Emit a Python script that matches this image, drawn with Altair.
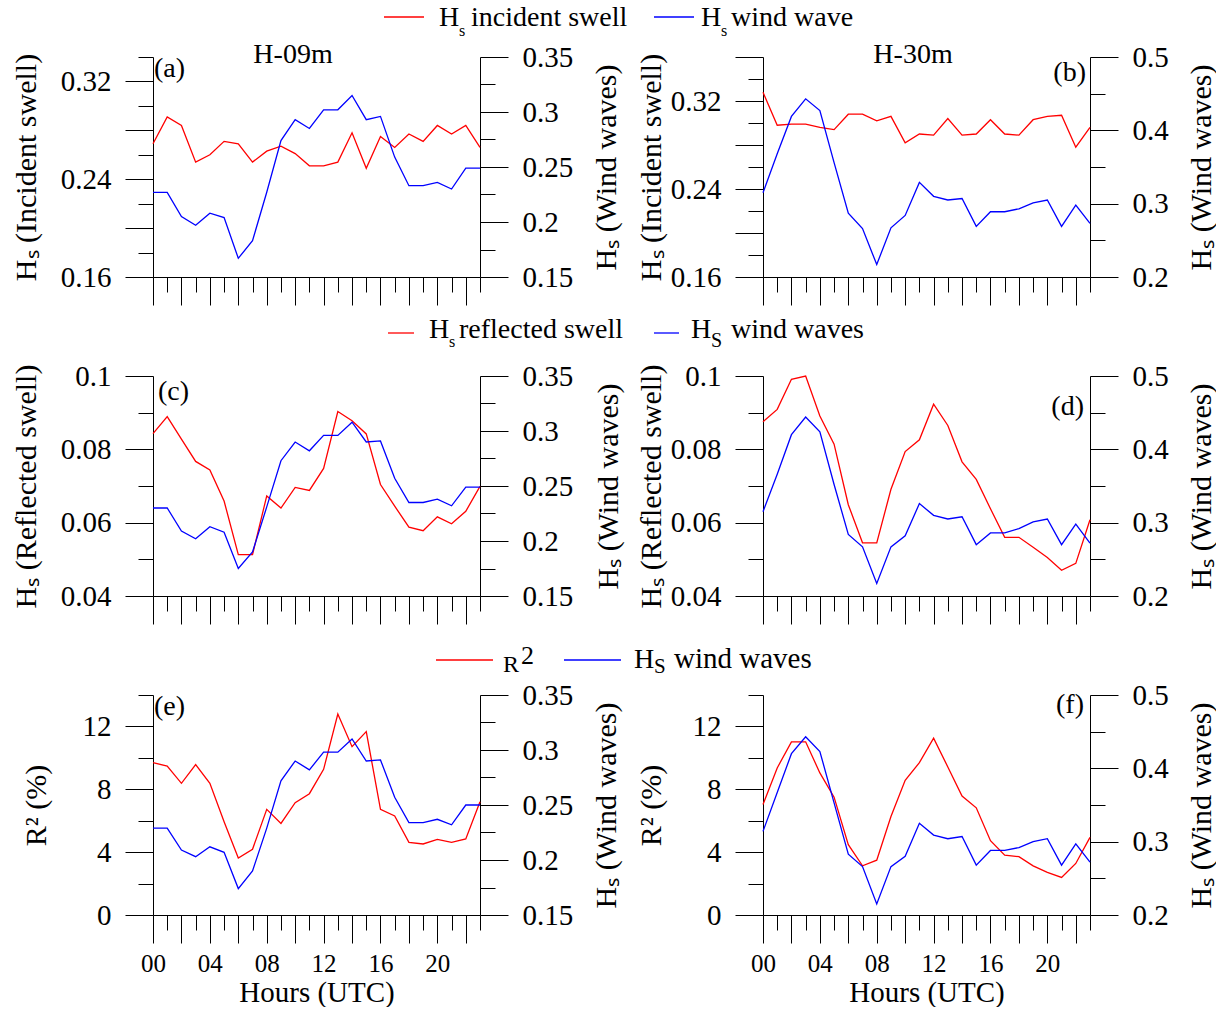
import altair as alt
import pandas as pd

hours = list(range(24))

a_incident = [0.269, 0.291, 0.284, 0.254, 0.260, 0.271, 0.269, 0.254, 0.263, 0.267, 0.261, 0.251,
              0.251, 0.254, 0.278, 0.249, 0.275, 0.266, 0.277, 0.271, 0.284, 0.277, 0.284, 0.266]
a_wind = [0.227, 0.227, 0.205, 0.197, 0.208, 0.204, 0.167, 0.183, 0.227, 0.274, 0.293, 0.285,
          0.302, 0.302, 0.315, 0.293, 0.296, 0.259, 0.233, 0.233, 0.236, 0.230, 0.249, 0.249]
b_incident = [0.328, 0.298, 0.299, 0.299, 0.296, 0.294, 0.308, 0.308, 0.302, 0.306, 0.282, 0.290,
              0.289, 0.304, 0.289, 0.290, 0.303, 0.290, 0.289, 0.303, 0.306, 0.307, 0.278, 0.296]
b_wind = [0.315, 0.368, 0.419, 0.443, 0.427, 0.356, 0.287, 0.266, 0.217, 0.267, 0.284, 0.329,
          0.310, 0.305, 0.307, 0.269, 0.289, 0.289, 0.293, 0.301, 0.305, 0.269, 0.298, 0.273]
c_reflected = [0.0843, 0.0889, 0.0828, 0.0767, 0.0744, 0.0659, 0.0513, 0.0513, 0.0673, 0.0640, 0.0696, 0.0688,
               0.0748, 0.0903, 0.0878, 0.0842, 0.0704, 0.0645, 0.0588, 0.0578, 0.0616, 0.0597, 0.0631, 0.0699]
c_wind = [0.230, 0.230, 0.209, 0.202, 0.213, 0.208, 0.175, 0.190, 0.231, 0.273, 0.290, 0.282,
          0.296, 0.296, 0.308, 0.290, 0.291, 0.257, 0.235, 0.235, 0.238, 0.232, 0.249, 0.249]
d_reflected = [0.0875, 0.0909, 0.0991, 0.1000, 0.0891, 0.0814, 0.0649, 0.0545, 0.0545, 0.0691, 0.0794, 0.0826,
               0.0923, 0.0865, 0.0766, 0.0718, 0.0638, 0.0560, 0.0560, 0.0533, 0.0505, 0.0470, 0.0489, 0.0608]
d_wind = [0.315, 0.366, 0.420, 0.444, 0.424, 0.352, 0.284, 0.267, 0.217, 0.267, 0.282, 0.326,
          0.310, 0.305, 0.308, 0.270, 0.286, 0.286, 0.292, 0.301, 0.305, 0.270, 0.298, 0.272]
e_r2 = [9.69, 9.48, 8.38, 9.57, 8.38, 5.94, 3.63, 4.18, 6.72, 5.83, 7.15, 7.72,
        9.27, 12.79, 10.71, 11.67, 6.72, 6.30, 4.62, 4.52, 4.81, 4.62, 4.84, 7.21]
e_wind = [0.229, 0.229, 0.209, 0.203, 0.212, 0.207, 0.174, 0.190, 0.229, 0.272, 0.290, 0.282,
          0.298, 0.298, 0.310, 0.290, 0.291, 0.257, 0.234, 0.234, 0.237, 0.232, 0.250, 0.250]
f_r2 = [7.03, 9.36, 11.02, 11.02, 9.04, 7.50, 4.48, 3.13, 3.49, 6.27, 8.57, 9.70,
        11.25, 9.42, 7.57, 6.82, 4.73, 3.81, 3.71, 3.13, 2.71, 2.39, 3.28, 4.94]
f_wind = [0.314, 0.367, 0.420, 0.443, 0.423, 0.353, 0.283, 0.266, 0.215, 0.266, 0.280, 0.325,
          0.309, 0.304, 0.307, 0.268, 0.288, 0.288, 0.292, 0.300, 0.304, 0.268, 0.297, 0.272]

FONT = "Liberation Serif"
W, H = 327, 220
RED = "#ff0000"
BLUE = "#0000ff"

T_HS_INC = "H\u209b (Incident swell)"
T_HS_REF = "H\u209b (Reflected swell)"
T_HS_WIND = "H\u209b (Wind waves)"
T_R2 = "R\u00b2 (%)"


def steps(lo, hi, step, nd=4):
    n = int(round((hi - lo) / step))
    return [round(lo + i * step, nd) for i in range(n + 1)]


def yaxis(orient, vals, mult, longmod, labmod, fmt, title, title_x):
    t_long = f"round(datum.value*{mult}) % {longmod} === 0"
    t_lab = f"round(datum.value*{mult}) % {labmod} === 0"
    return alt.Axis(
        orient=orient, values=vals, grid=False, title=title,
        labelExpr=f"{t_lab} ? format(datum.value, '{fmt}') : ''",
        tickSize={"condition": {"test": t_long, "value": 28}, "value": 15},
        labelPadding=14, labelOverlap=False, labelFont=FONT, labelFontSize=29,
        labelColor="black", domainColor="black", tickColor="black",
        titleFont=FONT, titleFontSize=30, titleFontWeight="normal", titleColor="black",
        titleAngle=270, titleAlign="center", titleBaseline="middle",
        titleX=title_x, titleY=H / 2,
    )


def xaxis(show_labels):
    kw = dict(
        values=hours, grid=False, labelFlush=False, labelOverlap=False,
        tickSize={"condition": {"test": "datum.value % 2 === 0", "value": 28}, "value": 15},
        domainColor="black", tickColor="black", labelColor="black",
        labelFont=FONT, labelFontSize=25, labelPadding=8,
        titleFont=FONT, titleFontSize=29, titleFontWeight="normal", titleColor="black",
        titlePadding=2,
    )
    if show_labels:
        kw.update(labelExpr="datum.value % 4 === 0 ? format(datum.value, '02d') : ''",
                  title="Hours (UTC)")
    else:
        kw.update(labels=False, title=None)
    return alt.Axis(**kw)


def txt(text, x, y, size=28, align="left"):
    return alt.Chart(pd.DataFrame({"t": [text]})).mark_text(
        font=FONT, fontSize=size, align=align, baseline="alphabetic", color="black"
    ).encode(x=alt.value(x), y=alt.value(y), text="t:N")


def seg(x1, x2, y, color):
    return alt.Chart(pd.DataFrame({"t": [0]})).mark_rule(color=color, strokeWidth=1.3).encode(
        x=alt.value(x1), x2=alt.value(x2), y=alt.value(y))


def panel(red, blue, left, right, show_x, extras):
    df = pd.DataFrame({"hour": hours, "red": red, "blue": blue})
    base = alt.Chart(df).encode(
        x=alt.X("hour:Q", scale=alt.Scale(domain=[0, 23], nice=False, zero=False), axis=xaxis(show_x))
    )
    lred = base.mark_line(color=RED, strokeWidth=1.3).encode(
        y=alt.Y("red:Q", scale=alt.Scale(domain=left["dom"], nice=False, zero=False), axis=left["axis"]))
    lblue = base.mark_line(color=BLUE, strokeWidth=1.3).encode(
        y=alt.Y("blue:Q", scale=alt.Scale(domain=right["dom"], nice=False, zero=False), axis=right["axis"]))
    return alt.layer(lred, lblue, *extras).resolve_scale(y="independent").properties(width=W, height=H)


def L_inc(tx):
    return {"dom": [0.16, 0.34], "axis": yaxis("left", steps(0.16, 0.34, 0.02), 100, 4, 8, ".2f", T_HS_INC, tx)}


def L_inc_b(tx):
    return {"dom": [0.16, 0.36], "axis": yaxis("left", steps(0.16, 0.36, 0.02), 100, 4, 8, ".2f", T_HS_INC, tx)}


def L_ref(tx):
    return {"dom": [0.04, 0.10], "axis": yaxis("left", steps(0.04, 0.10, 0.01), 100, 2, 2, ".2~f", T_HS_REF, tx)}


def L_r2(tx):
    return {"dom": [0, 14], "axis": yaxis("left", steps(0, 14, 2), 1, 4, 4, ".0f", T_R2, tx)}


def R_09(tx):
    return {"dom": [0.15, 0.35], "axis": yaxis("right", steps(0.15, 0.35, 0.025), 1000, 50, 50, ".3~f", T_HS_WIND, tx)}


def R_30(tx):
    return {"dom": [0.2, 0.5], "axis": yaxis("right", steps(0.2, 0.5, 0.05), 100, 10, 10, ".2~f", T_HS_WIND, tx)}


legend1 = [
    seg(231, 271, -40, RED), txt("H", 286, -31), txt("s", 306, -21, 16), txt("incident swell", 318, -31),
    seg(501, 541, -40, BLUE), txt("H", 548, -31), txt("s", 568, -21, 16), txt("wind wave", 578, -31),
]
legend2 = [
    seg(235, 261, -43, RED), txt("H", 276, -38), txt("s", 296, -29, 16), txt("reflected swell", 306, -38),
    seg(501, 526, -43, BLUE), txt("H", 538, -38), txt("S", 558, -29, 20), txt("wind waves", 578, -38),
]
legend3 = [
    seg(283, 340, -35, RED), txt("R", 350, -23, 24), txt("2", 368, -31, 26),
    seg(411, 468, -35, BLUE), txt("H", 481, -27), txt("S", 501, -22, 21), txt("wind waves", 521, -27, 29),
]

pa = panel(a_incident, a_wind, L_inc(-127), R_09(126), False,
           legend1 + [txt("(a)", 1, 20), txt("H-09m", 140, 6, 28, "center")])
pb = panel(b_incident, b_wind, L_inc_b(-112), R_30(111), False,
           [txt("(b)", 323, 24, 28, "right"), txt("H-30m", 150, 6, 28, "center")])
pc = panel(c_reflected, c_wind, L_ref(-127), R_09(128), False,
           legend2 + [txt("(c)", 5, 24)])
pd_ = panel(d_reflected, d_wind, L_ref(-112), R_30(111), False,
            [txt("(d)", 321, 39, 28, "right")])
pe = panel(e_r2, e_wind, L_r2(-117), R_09(126), True,
           legend3 + [txt("(e)", 1, 20)])
pf = panel(f_r2, f_wind, L_r2(-112), R_30(111), True,
           [txt("(f)", 321, 18, 28, "right")])

chart = alt.concat(pa, pb, pc, pd_, pe, pf, columns=2).properties(
    spacing={"row": 99, "column": 283}, bounds="flush",
    padding={"left": 10, "top": 4, "right": 0, "bottom": 0},
).configure_view(stroke=None)

chart.save("out.html", embed_options={"renderer": "svg", "actions": False})
